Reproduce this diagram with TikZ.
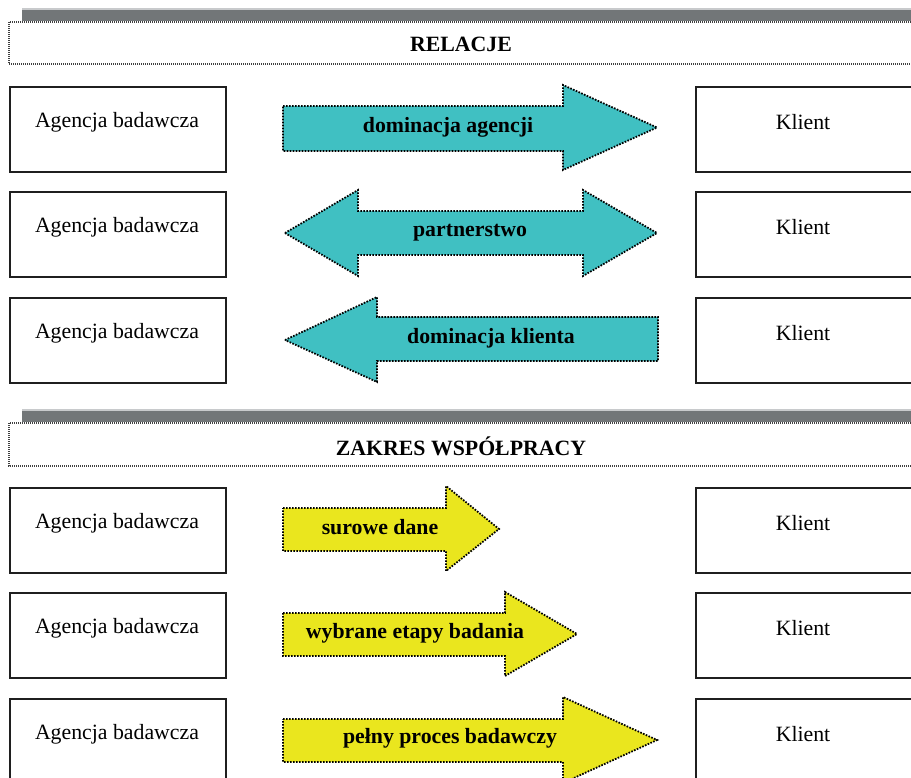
\documentclass[tikz,border=0pt]{standalone}
\usepackage{fontspec}
\setmainfont{Liberation Serif}
\definecolor{teal1}{RGB}{64,192,194}
\definecolor{yell1}{RGB}{234,230,30}
\definecolor{bargray}{RGB}{114,118,120}
\definecolor{barlight}{RGB}{200,202,204}
\tikzset{
  ent/.style={draw=black!88, line width=1.9pt, fill=white, minimum width=216pt, minimum height=85pt, inner sep=0pt, anchor=north west},
  enttext/.style={font=\fontsize{21.8}{24}\selectfont, inner sep=0pt},
  arrtext/.style={font=\fontsize{21.8}{24}\selectfont\bfseries, inner sep=0pt},
  titletext/.style={font=\fontsize{21.8}{24}\selectfont\bfseries, inner sep=0pt},
  blockarrow/.style={draw=black, line width=1.8pt, dash pattern=on 1.6pt off 1.4pt, line join=miter},
  titlebox/.style={draw=black!75, line width=1.1pt, dash pattern=on 1pt off 1pt, fill=white},
  bar/.style={fill=bargray, draw=none}
}
\begin{document}
\begin{tikzpicture}[x=1pt,y=-1pt]
\useasboundingbox (0,0) rectangle (911,778);
\clip (0,0) rectangle (911,778);
\fill[white] (0,0) rectangle (911,778);

% ---------- Section 1 header ----------
\fill[barlight] (22,8) rectangle (915,10);
\fill[bar] (22,10) rectangle (915,21);
\draw[titlebox] (9,22) rectangle (916,64);
\node[titletext] (t1) at (461,44) {RELACJE};

% ---------- Section 2 header ----------
\fill[barlight] (22,409) rectangle (915,411);
\fill[bar] (22,411) rectangle (915,422);
\draw[titlebox] (9,423) rectangle (916,466);
\node[titletext] (t2) at (461,446) {ZAKRES WSPÓŁPRACY};

% ---------- boxes ----------
\foreach \i/\y in {1/86,2/191,3/297,4/487,5/592,6/698}{
  \node[ent] (a\i) at (9,\y) {};
  \node[enttext] (at\i) at (117,\y+36) {Agencja badawcza};
  \node[ent] (k\i) at (695,\y) {};
  \node[enttext] (kt\i) at (803,\y+36) {Klient};
}

% ---------- teal arrows ----------
\filldraw[blockarrow, fill=teal1] (283,106) -- (563,106) -- (563,85) -- (657,127.5) -- (563,170) -- (563,151) -- (283,151) -- cycle;
\node[arrtext] (r1) at (448,127) {dominacja agencji};

\filldraw[blockarrow, fill=teal1] (285,233) -- (358,190) -- (358,211) -- (583,211) -- (583,190) -- (657,233) -- (583,276) -- (583,255) -- (358,255) -- (358,276) -- cycle;
\node[arrtext] (r2) at (470,233) {partnerstwo};

\filldraw[blockarrow, fill=teal1] (285,340) -- (377,297) -- (377,317) -- (658,317) -- (658,361) -- (377,361) -- (377,382) -- cycle;
\node[arrtext] (r3) at (491,338) {dominacja klienta};

% ---------- yellow arrows ----------
\filldraw[blockarrow, fill=yell1] (283,508) -- (446,508) -- (446,486) -- (499,529) -- (446,571) -- (446,551) -- (283,551) -- cycle;
\node[arrtext] (s1) at (380,527) {surowe dane};

\filldraw[blockarrow, fill=yell1] (283,613) -- (505,613) -- (505,592) -- (577,634) -- (505,676) -- (505,656) -- (283,656) -- cycle;
\node[arrtext] (s2) at (415,633) {wybrane etapy badania};

\filldraw[blockarrow, fill=yell1] (283,719) -- (563,719) -- (563,697) -- (657,740) -- (563,783) -- (563,762) -- (283,762) -- cycle;
\node[arrtext] (s3) at (450,738) {pełny proces badawczy};
\end{tikzpicture}
\end{document}
